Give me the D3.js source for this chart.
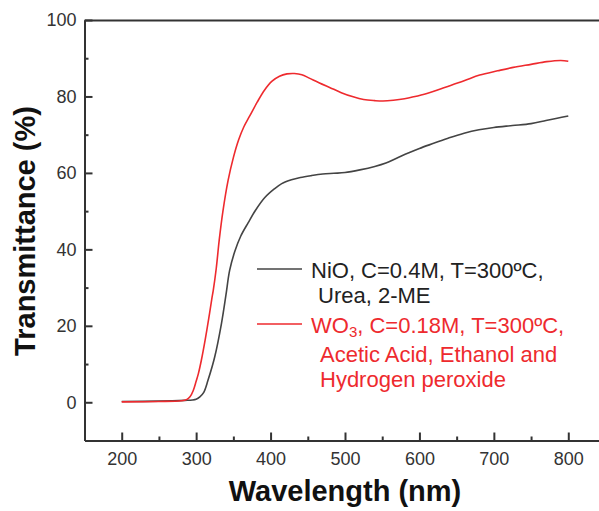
<!DOCTYPE html>
<html>
<head>
<meta charset="utf-8">
<script src="https://cdn.jsdelivr.net/npm/d3@7"></script>
<style>
  body { margin: 0; background: #fff; }
  svg { display: block; font-family: Arial, "Liberation Sans", sans-serif; }
</style>
</head>
<body>
<svg id="chart" width="599" height="511"></svg>
<script>
// NiO film
const nioWl = [200, 250, 285, 295, 300, 305, 310, 316, 325, 334, 340, 345, 352, 360, 370, 380, 392, 405, 415, 428, 440, 455, 470, 485, 500, 520, 540, 555, 570, 585, 600, 620, 640, 660, 680, 700, 725, 750, 770, 785, 800];
const nioT  = [0.2, 0.3, 0.5, 0.6, 0.8, 1.4, 2.5, 5.8, 11.9, 20.6, 28, 34.5, 39.5, 43.5, 47, 50.3, 53.5, 55.8, 57.2, 58.2, 58.8, 59.3, 59.7, 59.9, 60.1, 60.8, 61.7, 62.6, 63.9, 65.2, 66.4, 67.8, 69.2, 70.4, 71.3, 71.9, 72.4, 72.9, 73.7, 74.3, 74.9];

// WO3 film
const wo3Wl = [200, 250, 280, 287, 292, 296, 300, 303, 307, 312, 317, 321, 323, 327, 331, 336, 343, 350, 357, 364, 372, 382, 392, 402, 412, 422, 432, 442, 452, 465, 480, 495, 511, 525, 540, 551, 565, 580, 592, 610, 636, 660, 681, 705, 726, 750, 771, 790, 800];
const wo3T  = [0.1, 0.2, 0.4, 0.7, 1.5, 3, 5.5, 7.5, 11, 16.2, 22, 27, 29.3, 35, 42.4, 50, 58.1, 64, 68.6, 72, 74.9, 78.5, 81.7, 84, 85.3, 85.9, 86.0, 85.7, 84.8, 83.6, 82.3, 81.0, 79.9, 79.2, 78.9, 78.8, 79.0, 79.4, 79.9, 80.8, 82.5, 84.1, 85.6, 86.7, 87.6, 88.4, 89.1, 89.4, 89.2];

const xMajor = [200, 300, 400, 500, 600, 700, 800];
const xMinor = [250, 350, 450, 550, 650, 750];
const yMajor = [0, 20, 40, 60, 80, 100];
const yMinor = [10, 30, 50, 70, 90];

const nioColor = "#444";
const wo3Color = "#ee2a2e";

const svg = d3.select("#chart");
const x = d3.scaleLinear().domain([150, 850]).range([84.5, 605.5]);
const y = d3.scaleLinear().domain([-10, 100]).range([440.5, 20]);

// axes, ticks pointing inward
function styleAxis(g) {
  g.selectAll("path, line").attr("stroke", "#333").attr("stroke-width", 2);
  g.selectAll("text").attr("fill", "#333").attr("font-size", 18);
}

svg.append("g").attr("transform", `translate(0,${y(-10)})`)
  .call(d3.axisBottom(x).tickValues(xMinor).tickSize(-4).tickSizeOuter(0).tickFormat(""))
  .call(styleAxis);
svg.append("g").attr("transform", `translate(0,${y(-10)})`)
  .call(d3.axisBottom(x).tickValues(xMajor).tickSize(-8).tickSizeOuter(0).tickPadding(12))
  .call(styleAxis)
  .call(g => g.selectAll("text").attr("dy", "0.71em"));

svg.append("g").attr("transform", `translate(${x(150)},0)`)
  .call(d3.axisLeft(y).tickValues(yMinor).tickSize(-4).tickSizeOuter(0).tickFormat(""))
  .call(styleAxis);
svg.append("g").attr("transform", `translate(${x(150)},0)`)
  .call(d3.axisLeft(y).tickValues(yMajor).tickSize(-8).tickSizeOuter(0).tickPadding(8))
  .call(styleAxis);

svg.append("g").attr("transform", `translate(0,${y(100)})`)
  .call(d3.axisTop(x).tickValues([]).tickSizeOuter(0))
  .call(styleAxis);
svg.append("g").attr("transform", `translate(${x(850)},0)`)
  .call(d3.axisRight(y).tickValues([]).tickSizeOuter(0))
  .call(styleAxis);

// curves
const line = d3.line().x(d => x(d[0])).y(d => y(d[1])).curve(d3.curveCatmullRom.alpha(0.5));

svg.append("path")
  .datum(nioWl.map((w, i) => [w, nioT[i]]))
  .attr("d", line).attr("fill", "none")
  .attr("stroke", nioColor).attr("stroke-width", 1.6);

svg.append("path")
  .datum(wo3Wl.map((w, i) => [w, wo3T[i]]))
  .attr("d", line).attr("fill", "none")
  .attr("stroke", wo3Color).attr("stroke-width", 1.6);

// axis titles
svg.append("text")
  .attr("x", x(500)).attr("y", 501)
  .attr("text-anchor", "middle")
  .attr("font-size", 29).attr("font-weight", "bold").attr("fill", "#111")
  .text("Wavelength (nm)");

svg.append("text")
  .attr("transform", "translate(35,231) rotate(-90)")
  .attr("text-anchor", "middle")
  .attr("font-size", 29).attr("font-weight", "bold").attr("fill", "#111")
  .text("Transmittance (%)");

// legend
const leg = svg.append("g").attr("font-size", 22);

leg.append("line").attr("x1", 257).attr("x2", 302).attr("y1", 269).attr("y2", 269)
  .attr("stroke", nioColor).attr("stroke-width", 1.6);
leg.append("text").attr("x", 311).attr("y", 278).attr("fill", "#222")
  .text("NiO, C=0.4M, T=300ºC,");
leg.append("text").attr("x", 318).attr("y", 303).attr("fill", "#222")
  .text("Urea, 2-ME");

leg.append("line").attr("x1", 257).attr("x2", 302).attr("y1", 324).attr("y2", 324)
  .attr("stroke", wo3Color).attr("stroke-width", 1.6);
const wo3Label = leg.append("text").attr("x", 311).attr("y", 333).attr("fill", wo3Color);
wo3Label.append("tspan").text("WO");
wo3Label.append("tspan").attr("font-size", 15).attr("dy", 4).text("3");
wo3Label.append("tspan").attr("dy", -4).text(", C=0.18M, T=300ºC,");
leg.append("text").attr("x", 320).attr("y", 362).attr("fill", wo3Color)
  .text("Acetic Acid, Ethanol and");
leg.append("text").attr("x", 320).attr("y", 387).attr("fill", wo3Color)
  .text("Hydrogen peroxide");
</script>
</body>
</html>
